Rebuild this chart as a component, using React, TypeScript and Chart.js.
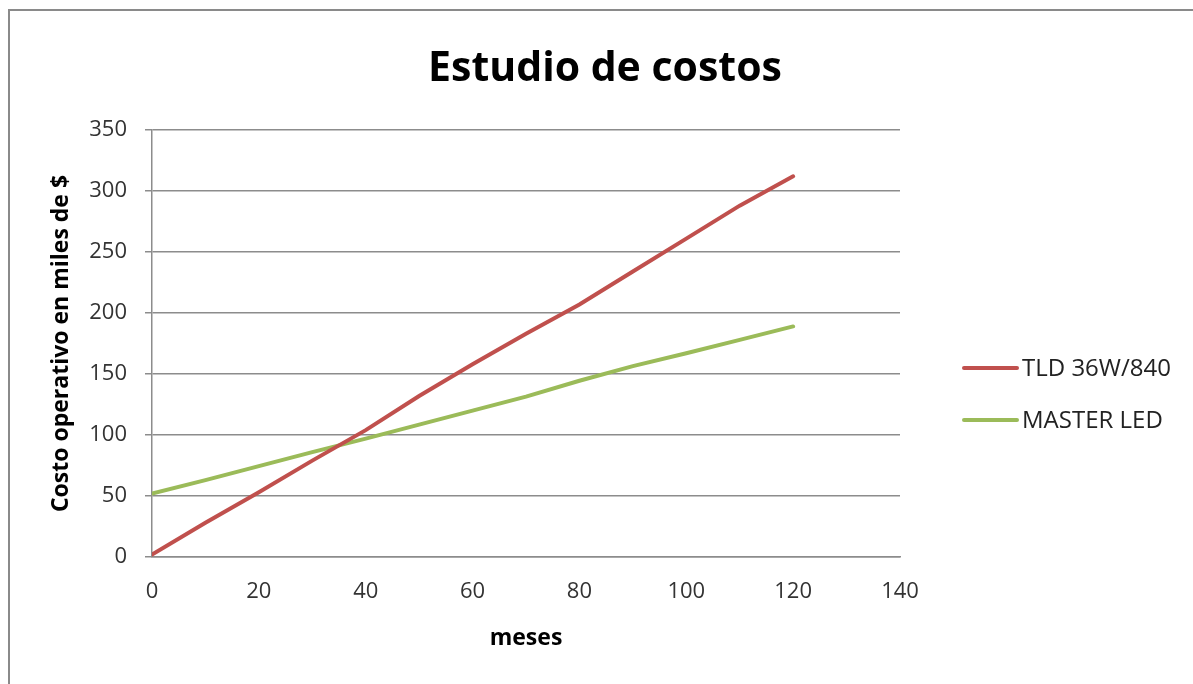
import React, { useEffect, useRef } from "react";
import { Chart, registerables } from "chart.js";

Chart.register(...registerables);

const chartTitle = "Estudio de costos";
const xAxisTitle = "meses";
const yAxisTitle = "Costo operativo en miles de $";
const months = [0, 10, 20, 30, 40, 50, 60, 70, 80, 90, 100, 110, 120];
const tldValues = [2, 28, 53, 79, 104, 132, 158, 183, 207, 234, 261, 288, 312];
const ledValues = [52, 63, 74.5, 86, 97, 108.5, 120, 131.5, 144.5, 156.5, 167, 178, 189];
const seriesNames = ["TLD 36W/840", "MASTER LED"];
const seriesColors = ["#C0504D", "#9BBB59"];

const FONT = "'Open Sans', 'DejaVu Sans', sans-serif";

const overlayPlugin = {
  id: "overlay",
  afterDraw(chart: any) {
    const ctx = chart.ctx;
    ctx.save();
    // title
    ctx.fillStyle = "#000";
    ctx.font = `bold 41px ${FONT}`;
    ctx.textAlign = "center";
    ctx.textBaseline = "alphabetic";
    ctx.fillText(chartTitle, 605, 81);
    // legend
    const ys = [368, 420];
    chart.data.datasets.forEach((ds: any, i: number) => {
      const y = ys[i];
      ctx.strokeStyle = ds.borderColor;
      ctx.lineWidth = 4;
      ctx.lineCap = "round";
      ctx.beginPath();
      ctx.moveTo(964, y);
      ctx.lineTo(1017, y);
      ctx.stroke();
      ctx.fillStyle = "#222";
      ctx.font = `24px ${FONT}`;
      ctx.textAlign = "left";
      ctx.textBaseline = "middle";
      ctx.fillText(ds.label, 1022, y + 1);
    });
    ctx.restore();
  },
};

export default function App() {
  const ref = useRef<HTMLCanvasElement | null>(null);
  useEffect(() => {
    if (!ref.current) return;
    const toPts = (vals: number[]) => months.map((m, i) => ({ x: m, y: vals[i] }));
    const grid = "#8c8c8c";
    const chart = new Chart(ref.current, {
      type: "line",
      data: {
        datasets: [
          {
            label: seriesNames[0],
            data: toPts(tldValues),
            borderColor: seriesColors[0],
            backgroundColor: seriesColors[0],
            borderWidth: 4,
            pointRadius: 0,
            tension: 0,
            borderCapStyle: "round",
          },
          {
            label: seriesNames[1],
            data: toPts(ledValues),
            borderColor: seriesColors[1],
            backgroundColor: seriesColors[1],
            borderWidth: 4,
            pointRadius: 0,
            tension: 0,
            borderCapStyle: "round",
          },
        ],
      },
      options: {
        animation: false,
        responsive: false,
        layout: { padding: { top: 130, left: 0, right: 293, bottom: 0 } },
        plugins: {
          legend: { display: false },
          title: { display: false },
          tooltip: { enabled: false },
        },
        scales: {
          x: {
            type: "linear",
            min: 0,
            max: 140,
            afterFit: (s: any) => {
              s.height = 127;
            },
            ticks: {
              stepSize: 20,
              padding: 22,
              color: "#333",
              font: { family: FONT, size: 22 },
            },
            grid: { display: false, drawTicks: false },
            border: { display: true, color: grid, width: 1.5 },
            title: {
              display: true,
              text: xAxisTitle,
              color: "#000",
              font: { family: FONT, size: 23, weight: "bold" },
              padding: { top: 0, bottom: 32 },
            },
          },
          y: {
            min: 0,
            max: 350,
            afterFit: (s: any) => {
              s.width = 152;
            },
            ticks: {
              stepSize: 50,
              padding: 18,
              color: "#333",
              font: { family: FONT, size: 22 },
            },
            grid: { color: grid, lineWidth: 1.5, tickLength: 7 },
            border: { display: true, color: grid, width: 1.5 },
            title: {
              display: true,
              text: yAxisTitle,
              color: "#000",
              font: { family: FONT, size: 23, weight: "bold" },
              padding: { top: 48, bottom: 0 },
            },
          },
        },
      },
      plugins: [overlayPlugin],
    } as any);
    return () => chart.destroy();
  }, []);
  return (
    <div style={{ position: "fixed", left: 0, top: 0, width: 1193, height: 684, overflow: "hidden", background: "#fff" }}>
      <div
        style={{
          position: "absolute",
          left: 8,
          top: 9,
          width: 1300,
          height: 800,
          border: "2px solid #8a8a8a",
          boxSizing: "border-box",
        }}
      />
      <canvas ref={ref} width={1193} height={684} style={{ position: "absolute", left: 0, top: 0 }} />
    </div>
  );
}
